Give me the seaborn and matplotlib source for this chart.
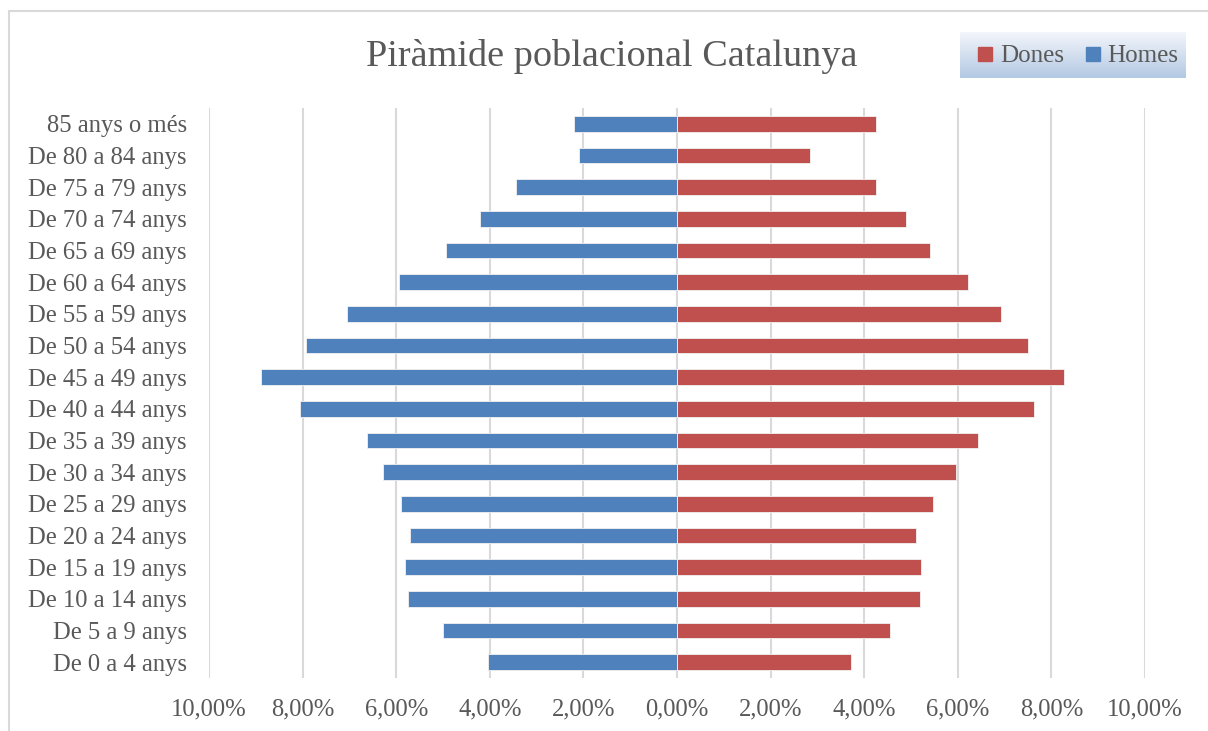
import numpy as np
import pandas as pd
import matplotlib
matplotlib.use("Agg")
import matplotlib.pyplot as plt
import seaborn as sns
from matplotlib.lines import Line2D
from matplotlib.ticker import FuncFormatter

edats = [
    "85 anys o més", "De 80 a 84 anys", "De 75 a 79 anys", "De 70 a 74 anys",
    "De 65 a 69 anys", "De 60 a 64 anys", "De 55 a 59 anys", "De 50 a 54 anys",
    "De 45 a 49 anys", "De 40 a 44 anys", "De 35 a 39 anys", "De 30 a 34 anys",
    "De 25 a 29 anys", "De 20 a 24 anys", "De 15 a 19 anys", "De 10 a 14 anys",
    "De 5 a 9 anys", "De 0 a 4 anys",
]
homes = [2.21, 2.10, 3.44, 4.22, 4.93, 5.93, 7.06, 7.92,
         8.88, 8.06, 6.62, 6.29, 5.89, 5.71, 5.82, 5.74, 5.00, 4.03]
dones = [4.25, 2.85, 4.26, 4.90, 5.40, 6.21, 6.92, 7.49,
         8.26, 7.63, 6.43, 5.97, 5.48, 5.11, 5.22, 5.20, 4.56, 3.71]
x_ticks = [-10, -8, -6, -4, -2, 0, 2, 4, 6, 8, 10]

colors = {"Dones": "#C0504D", "Homes": "#4F81BD"}
text_color = "#595959"

df = pd.concat([
    pd.DataFrame({"Edat": edats, "Sexe": "Dones", "Valor": dones}),
    pd.DataFrame({"Edat": edats, "Sexe": "Homes", "Valor": [-v for v in homes]}),
])

sns.set_style("white")
plt.rcParams["font.family"] = ["Liberation Serif", "DejaVu Serif"]

fig = plt.figure(figsize=(12.08, 7.31), dpi=100)
ax = fig.add_axes([209 / 1208, 1 - 678 / 731, (1145 - 209) / 1208, 570 / 731])

sns.barplot(
    data=df, y="Edat", x="Valor", hue="Sexe", order=edats,
    hue_order=["Dones", "Homes"], palette=colors, dodge=False, saturation=1,
    orient="h", width=0.5, edgecolor="#f2f2f2", linewidth=0.6,
    legend=False, ax=ax,
)

ax.set_xlim(-10, 10)
ax.set_xticks(x_ticks)
ax.xaxis.set_major_formatter(FuncFormatter(lambda v, p: f"{abs(v):.2f}%".replace(".", ",")))
ax.grid(axis="x", color="#d9d9d9", linewidth=1.5)
ax.set_axisbelow(True)
for s in ax.spines.values():
    s.set_visible(False)
ax.tick_params(axis="both", length=0, labelsize=17.7, labelcolor=text_color)
ax.tick_params(axis="y", pad=16)
ax.tick_params(axis="x", pad=15)
ax.set_xlabel("")
ax.set_ylabel("")

fig.text(612 / 1208, 1 - 57 / 731, "Piràmide poblacional Catalunya",
         ha="center", va="center", fontsize=27.5, color=text_color)

# legend box with gradient
lax = fig.add_axes([960 / 1208, 1 - 78 / 731, 225 / 1208, 46 / 731])
grad = np.linspace(0, 1, 100).reshape(-1, 1)
cmap = matplotlib.colors.LinearSegmentedColormap.from_list("g", ["#f3f6fb", "#b3c8e3"])
lax.imshow(grad, aspect="auto", cmap=cmap, extent=[0, 1, 0, 1], origin="upper")
lax.set_axis_off()
handles = [Line2D([], [], marker="s", linestyle="", markersize=10,
                  markerfacecolor=colors[k], markeredgecolor=colors[k]) for k in ["Dones", "Homes"]]
fig.legend(handles, ["Dones", "Homes"], loc="center", bbox_to_anchor=(1076 / 1208, 1 - 56 / 731),
           ncol=2, frameon=False, fontsize=18, labelcolor=text_color,
           handletextpad=0.15, columnspacing=0.7, handlelength=0.9)

# outer chart border
fig.add_artist(Line2D([9 / 1208, 1], [1 - 11 / 731, 1 - 11 / 731], color="#d9d9d9", lw=1.5))
fig.add_artist(Line2D([9 / 1208, 9 / 1208], [0, 1 - 11 / 731], color="#d9d9d9", lw=1.5))

fig.savefig("out.png", dpi=100)
